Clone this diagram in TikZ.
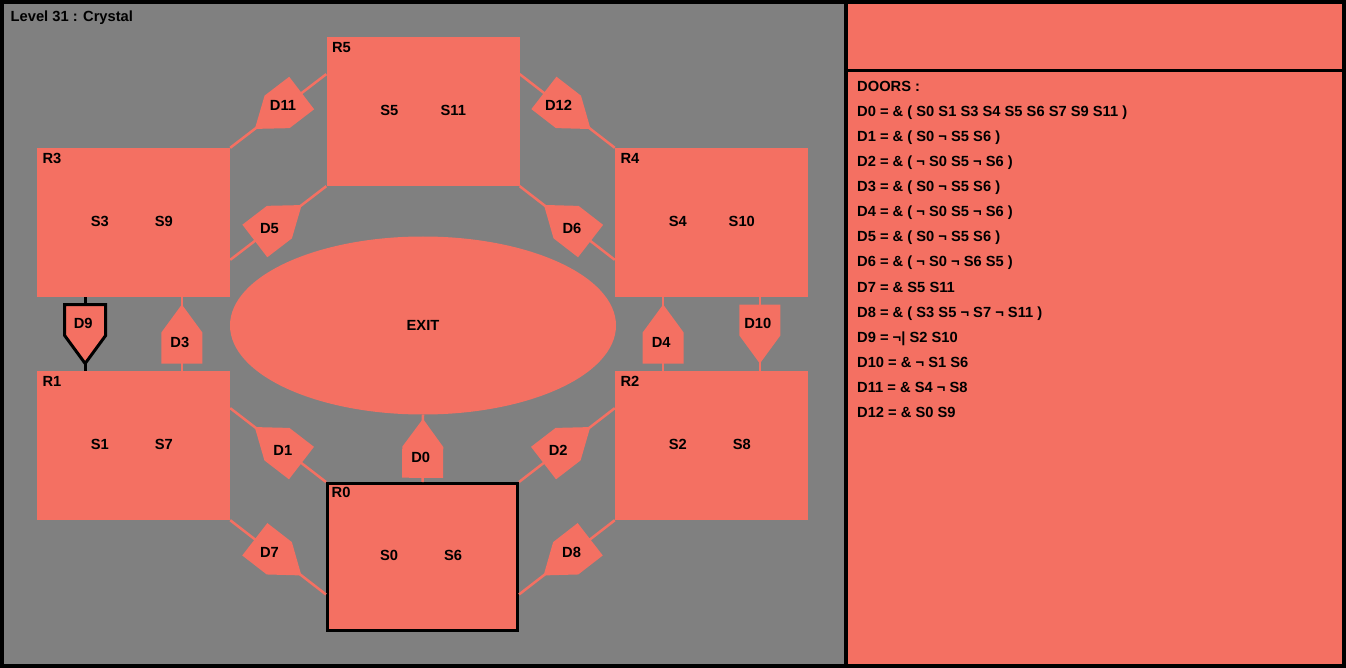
\documentclass[tikz,border=0pt]{standalone}
\usepackage{fontspec}
\setmainfont{Liberation Sans}
\usetikzlibrary{shapes.geometric,calc}

\definecolor{salmon}{RGB}{244,112,98}
\definecolor{floorgray}{RGB}{128,128,128}

\tikzset{
    pics/door/.style={code={
        \path[pic actions] (-29.5,-20.5) -- (1.5,-20.5) -- (29.5,0) -- (1.5,20.5) -- (-29.5,20.5) -- cycle;
    }}
}

\begin{document}
\begin{tikzpicture}[x=1pt, y=-1pt, allow upside down, font=\fontsize{14.7}{17}\selectfont\bfseries]
    % --- DEFINE STYLES ---
    % Style for rooms
    \tikzstyle{room} = [rectangle, fill=salmon, inner sep=0pt, minimum width=193, minimum height=149]
    % Style for the starting room
    \tikzstyle{start_room} = [room, draw=black, line width=3pt, minimum width=190, minimum height=147]
    % Style for connectors
    \tikzstyle{link} = [salmon, line width=2.5pt]
    \tikzstyle{lock} = [black, line width=3pt]
    % Style for door bodies
    \tikzstyle{open_door} = [fill=salmon]
    \tikzstyle{lock_door} = [fill=salmon, draw=black, line width=3pt]

    \useasboundingbox (0,0) rectangle (1346,668);

    % Background and frame
    \fill[floorgray] (0,0) rectangle (846,668);
    \fill[salmon] (846,0) rectangle (1346,668);
    \draw[line width=4pt] (2,2) rectangle (1344,666);
    \draw[line width=4pt] (846,0) -- (846,668);
    \draw[line width=3pt] (846,70.5) -- (1346,70.5);

    \node[anchor=base west, inner sep=0pt] (title) at (10.5,21.7) {Level 31 : Crystal};

    % --- ROOMS ---
    \foreach \r/\x/\y/\sa/\sb in {0/422.5/557/0/6, 1/133.5/445.5/1/7, 2/711.5/445.5/2/8,
                                  3/133.5/222.5/3/9, 4/711.5/222.5/4/10, 5/423/111.5/5/11} {
        \ifnum\r=0 \def\style{start_room} \else \def\style{room} \fi
        \node[\style] (r\r) at (\x,\y) {};
        \node[anchor=north west, inner sep=0pt] (r\r lbl) at ($(r\r.north west)+(5.5,5.5)$) {R\r};
        \node (s\sa) at ($(r\r.west)+(63,-1.5)$) {S\sa};
        \node (s\sb) at ($(r\r.west)+(127,-1.5)$) {S\sb};
        % ports at the quarters of each side
        \coordinate (r\r-en) at ($(r\r.north east)!.25!(r\r.south east)$);
        \coordinate (r\r-es) at ($(r\r.north east)!.75!(r\r.south east)$);
        \coordinate (r\r-wn) at ($(r\r.north west)!.25!(r\r.south west)$);
        \coordinate (r\r-ws) at ($(r\r.north west)!.75!(r\r.south west)$);
        \coordinate (r\r-nw) at ($(r\r.north west)!.25!(r\r.north east)$);
        \coordinate (r\r-ne) at ($(r\r.north west)!.75!(r\r.north east)$);
        \coordinate (r\r-sw) at ($(r\r.south west)!.25!(r\r.south east)$);
        \coordinate (r\r-se) at ($(r\r.south west)!.75!(r\r.south east)$);
    }

    \node[ellipse, fill=salmon, inner sep=0pt, minimum width=386, minimum height=178] (exit) at (423,325.5) {EXIT};

    % --- DOORS (tip points to the target room) ---
    \foreach \n/\a/\b/\p in {
        0/r0.north/exit.south/.37,
        1/r0.north west/r1-en/.43,
        2/r0.north east/r2-wn/.43,
        3/r1-ne/r3-se/.38,
        4/r2-nw/r4-sw/.38,
        5/r3-es/r5.south west/.43,
        6/r4-ws/r5.south east/.43,
        7/r1.south east/r0-ws/.43,
        8/r2.south west/r0-es/.43,
        9/r3-sw/r1-nw/.36,
        10/r4-se/r2-ne/.36,
        11/r5-wn/r3.north east/.43,
        12/r5-en/r4.north west/.43} {
        \ifnum\n=9 \def\style{lock} \def\body{lock_door}
        \else \def\style{link} \def\body{open_door}
        \fi
        \draw[\style] (\a) -- (\b);
        \path (\a) -- (\b) pic[pos=.5, sloped, \body] {door} node[pos=\p, xshift=-2pt] (d\n) {D\n};
    }

    % --- DOOR LIST ---
    \foreach \t [count=\k from 0] in {{DOORS :},
        {D0 = \& ( S0 S1 S3 S4 S5 S6 S7 S9 S11 )},
        {D1 = \& ( S0 ¬ S5 S6 )},
        {D2 = \& ( ¬ S0 S5 ¬ S6 )},
        {D3 = \& ( S0 ¬ S5 S6 )},
        {D4 = \& ( ¬ S0 S5 ¬ S6 )},
        {D5 = \& ( S0 ¬ S5 S6 )},
        {D6 = \& ( ¬ S0 ¬ S6 S5 )},
        {D7 = \& S5 S11},
        {D8 = \& ( S3 S5 ¬ S7 ¬ S11 )},
        {D9 = ¬| S2 S10},
        {D10 = \& ¬ S1 S6},
        {D11 = \& S4 ¬ S8},
        {D12 = \& S0 S9}} {
        \node[anchor=base west, inner sep=0pt] (doors\k) at (857,{92+25*\k}) {\t};
    }
\end{tikzpicture}
\end{document}
